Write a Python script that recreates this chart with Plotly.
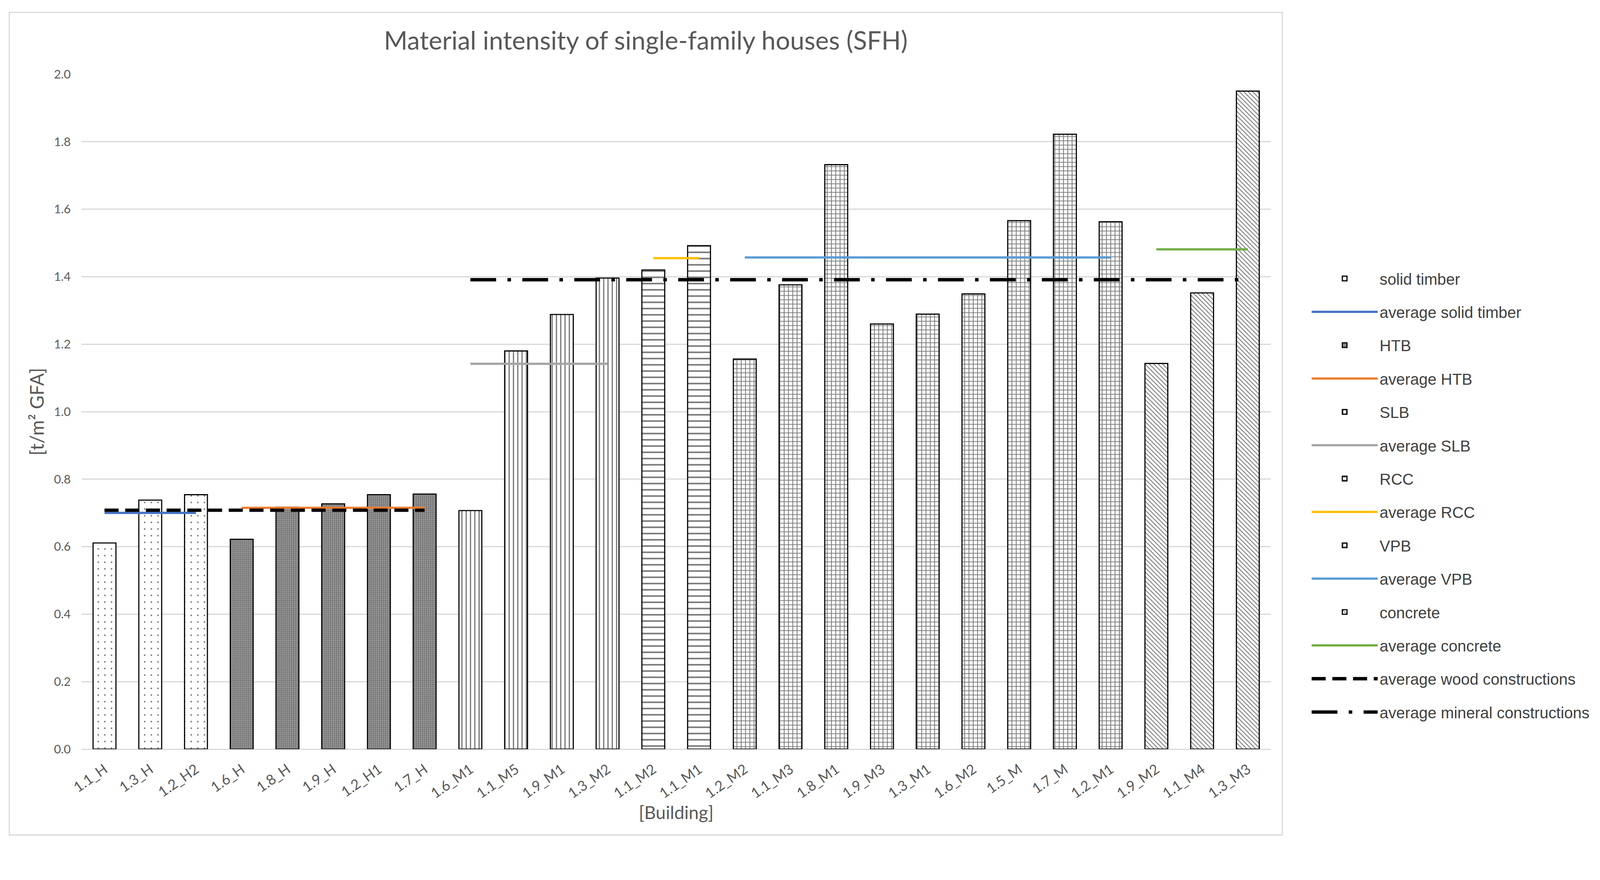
import plotly.graph_objects as go

# ---------------- data ----------------
solid_timber_x = ["1.1_H", "1.3_H", "1.2_H2"]
solid_timber_y = [0.611, 0.738, 0.754]

htb_x = ["1.6_H", "1.8_H", "1.9_H", "1.2_H1", "1.7_H"]
htb_y = [0.622, 0.717, 0.727, 0.754, 0.756]

slb_x = ["1.6_M1", "1.1_M5", "1.9_M1", "1.3_M2"]
slb_y = [0.707, 1.180, 1.288, 1.396]

rcc_x = ["1.1_M2", "1.1_M1"]
rcc_y = [1.420, 1.492]

vpb_x = ["1.2_M2", "1.1_M3", "1.8_M1", "1.9_M3", "1.3_M1", "1.6_M2", "1.5_M", "1.7_M", "1.2_M1"]
vpb_y = [1.156, 1.376, 1.732, 1.260, 1.289, 1.349, 1.566, 1.822, 1.563]

concrete_x = ["1.9_M2", "1.1_M4", "1.3_M3"]
concrete_y = [1.143, 1.352, 1.950]

avg_solid_timber = 0.700
avg_htb = 0.715
avg_slb = 1.142
avg_rcc = 1.455
avg_vpb = 1.457
avg_concrete = 1.481
avg_wood = 0.708
avg_mineral = 1.391

categories = solid_timber_x + htb_x + slb_x + rcc_x + vpb_x + concrete_x
wood_x = solid_timber_x + htb_x
mineral_x = slb_x + rcc_x + vpb_x + concrete_x

y_ticks = [0.0, 0.2, 0.4, 0.6, 0.8, 1.0, 1.2, 1.4, 1.6, 1.8, 2.0]

# ---------------- layout constants ----------------
# reference pixel positions are mapped to figure pixels by a uniform scale
S = 0.9595
OFF = 8


def f(p):
    return p * S - OFF


def sz(v):
    return v * S


def isz(v):
    return int(round(v * S))


W = int(round(f(4271)))
H = int(round(f(2253))) - 4
L, R, T, B = f(218), f(3390), f(198), f(1999)
GREY_TXT = "#595959"
GRID = "#d9d9d9"


def px_x(p):
    return (f(p) - L) / (R - L)


def px_y(p):
    return (B - f(p)) / (B - T)


fig = go.Figure()


def add_bar(name, xs, ys, shape, size, solidity, fg="black", bg="white"):
    fig.add_trace(go.Bar(
        name=name, x=xs, y=ys, width=0.5,
        marker=dict(color=bg, line=dict(color="black", width=sz(3)),
                    pattern=dict(shape=shape, size=size, solidity=solidity,
                                 fgcolor=fg, bgcolor=bg, fillmode="overlay")),
        legendgroup=name,
    ))


def add_avg(name, xs, value, color, width=6, dash="solid"):
    fig.add_trace(go.Scatter(
        name=name, x=[xs[0], xs[-1]], y=[value, value], mode="lines",
        line=dict(color=color, width=sz(width), dash=dash),
        legendgroup=name,
    ))


add_bar("solid timber", solid_timber_x, solid_timber_y, ".", 17, 0.05)
add_avg("average solid timber", solid_timber_x, avg_solid_timber, "#4472C4")
add_bar("HTB", htb_x, htb_y, "+", 5, 0.35, fg="#2a2a2a", bg="#9a9a9a")
add_avg("average HTB", htb_x, avg_htb, "#ED7D31")
add_bar("SLB", slb_x, slb_y, "|", 11, 0.3)
add_avg("average SLB", slb_x, avg_slb, "#A5A5A5")
add_bar("RCC", rcc_x, rcc_y, "-", 16, 0.26)
add_avg("average RCC", rcc_x, avg_rcc, "#FFC000")
add_bar("VPB", vpb_x, vpb_y, "+", 11, 0.36)
add_avg("average VPB", vpb_x, avg_vpb, "#5B9BD5")
add_bar("concrete", concrete_x, concrete_y, "\\", 8, 0.3)
add_avg("average concrete", concrete_x, avg_concrete, "#70AD47")
add_avg("average wood constructions", wood_x, avg_wood, "black", width=9, dash="36px,17px")
add_avg("average mineral constructions", mineral_x, avg_mineral, "black", width=9,
        dash="66px,29px,9px,29px")

fig.update_layout(
    width=W, height=H, autosize=False,
    paper_bgcolor="white", plot_bgcolor="white",
    margin=dict(l=L, r=W - R, t=T, b=H - B, pad=0),
    barmode="overlay",
    font=dict(family="Lato", color=GREY_TXT),
    title=dict(text="Material intensity of single-family houses (SFH)",
               font=dict(family="Lato", size=sz(68), color=GREY_TXT),
               xref="container", yref="container",
               x=f(1723) / W, xanchor="center", y=1 - f(109) / H, yanchor="middle"),
    xaxis=dict(type="category", categoryorder="array", categoryarray=categories,
               range=[-0.5, len(categories) - 0.5],
               showgrid=False, showline=False, ticks="", tickangle=-35,
               ticklabelstandoff=isz(24),
               tickfont=dict(family="Lato", size=sz(38), color=GREY_TXT),
               title=dict(text="[Building]", font=dict(family="Lato", size=sz(48), color=GREY_TXT),
                          standoff=isz(4)),
               automargin=False),
    yaxis=dict(range=[0, 2.0], tickvals=y_ticks, tickformat=".1f",
               showgrid=True, gridcolor=GRID, gridwidth=sz(3),
               zeroline=True, zerolinecolor=GRID, zerolinewidth=sz(3),
               showline=False, ticks="", ticklabelstandoff=isz(28),
               tickfont=dict(family="Lato", size=sz(32), color=GREY_TXT),
               title=dict(text="[t/m² GFA]", font=dict(family="Lato", size=sz(50), color=GREY_TXT),
                          standoff=isz(10)),
               automargin=False),
    legend=dict(x=px_x(3494), xanchor="left", y=px_y(709), yanchor="top",
                traceorder="grouped", tracegroupgap=isz(31), itemwidth=isz(176),
                font=dict(family="Liberation Sans", size=sz(42), color="#404040"),
                bgcolor="rgba(0,0,0,0)"),
    shapes=[dict(type="rect", xref="paper", yref="paper",
                 x0=px_x(25), x1=px_x(3421), y0=px_y(2228), y1=px_y(33),
                 line=dict(color=GRID, width=sz(3)), fillcolor="rgba(0,0,0,0)", layer="below")],
)

fig.write_html("out.html")
